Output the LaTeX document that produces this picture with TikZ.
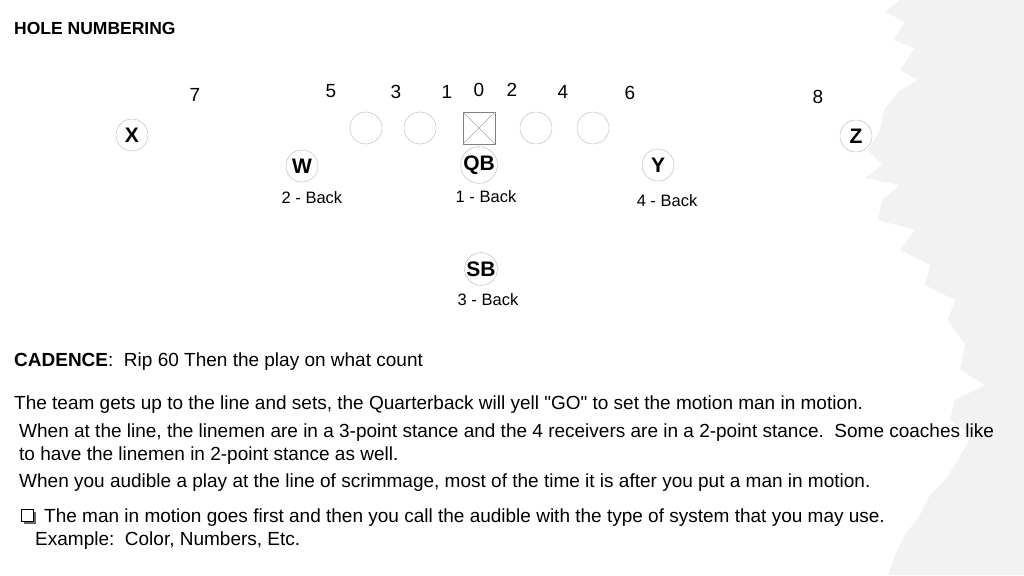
\documentclass[tikz,border=0pt]{standalone}
\usepackage{fontspec}
\setmainfont[Ligatures=TeXOff]{Liberation Sans}
\begin{document}
\begin{tikzpicture}[x=1pt,y=-1pt,
    player/.style={circle, draw=black!30, thin, minimum size=32pt, inner sep=0pt, font=\fontsize{21}{21}\selectfont\bfseries},
    lineman/.style={circle, draw=black!30, thin, minimum size=32pt, inner sep=0pt},
    hole/.style={font=\fontsize{19}{19}\selectfont},
    back/.style={font=\fontsize{16.5}{16.5}\selectfont},
    body/.style={anchor=west, inner sep=0pt, font=\fontsize{19}{19}\selectfont}
  ]
  \useasboundingbox (0,0) rectangle (1024,575);
  % brushed background on the right
  \fill[black!5] (1024,0) -- (900,0) -- (885,12) -- (905,22) -- (893,40) -- (915,48) -- (900,70)
    -- (918,80) -- (898,92) -- (884,110) -- (880,130) -- (868,150) -- (882,165) -- (865,178)
    -- (900,185) -- (882,200) -- (878,220) -- (915,230) -- (900,250) -- (930,265) -- (925,285)
    -- (955,300) -- (948,320) -- (965,345) -- (960,370) -- (985,385) -- (955,400) -- (950,420)
    -- (972,435) -- (958,460) -- (945,480) -- (930,495) -- (920,515) -- (905,535) -- (895,555)
    -- (888,575) -- (1024,575) -- cycle;
  \node[anchor=west, inner sep=0pt, font=\fontsize{17.5}{17.5}\selectfont\bfseries] (title) at (14,28) {HOLE NUMBERING};
  % hole numbers
  \foreach \n/\x/\y in {7/195/95, 5/331/91, 3/396/92, 1/447/92, 0/479/90, 2/512/90, 4/563/92, 6/630/93, 8/818/97}
    \node[hole] (h\n) at (\x,\y) {\n};
  % line
  \foreach \x [count=\i] in {366,420,536,593}
    \node[lineman] (l\i) at (\x,128) {};
  \node[draw=black!50, minimum size=32pt, inner sep=0pt] (C) at (479,128) {};
  \draw[black!35, thin] (C.north west) -- (C.south east) (C.north east) -- (C.south west);
  % backs and receivers
  \node[player] (X) at (132,135) {X};
  \node[player] (Z) at (856,136) {Z};
  \node[player] (W) at (302,166) {W};
  \node[player] (QB) at (479,165) {QB};
  \node[player] (Y) at (658,165) {Y};
  \node[player] (SB) at (481,269) {SB};
  \node[back] (wb) at (312,198) {2 - Back};
  \node[back] (qbb) at (486,197) {1 - Back};
  \node[back] (yb) at (667,201) {4 - Back};
  \node[back] (sbb) at (488,300) {3 - Back};
  % text
  \node[body] (cad) at (14,362) {\textbf{CADENCE}:\ \ Rip 60 Then the play on what count};
  \node[body] (t1) at (14,405) {The team gets up to the line and sets, the Quarterback will yell "GO" to set the motion man in motion.};
  \node[body] (t2) at (19,433) {When at the line, the linemen are in a 3-point stance and the 4 receivers are in a 2-point stance.\ \ Some coaches like};
  \node[body] (t3) at (19,456) {to have the linemen in 2-point stance as well.};
  \node[body] (t4) at (19,483) {When you audible a play at the line of scrimmage, most of the time it is after you put a man in motion.};
  \fill[black!60] (24,512) rectangle (36,524);
  \draw[fill=white, thick] (21,509) rectangle (33,521);
  \node[body] (t5) at (44,518) {The man in motion goes first and then you call the audible with the type of system that you may use.};
  \node[body] (t6) at (35,541) {Example:\ \ Color, Numbers, Etc.};
\end{tikzpicture}
\end{document}
